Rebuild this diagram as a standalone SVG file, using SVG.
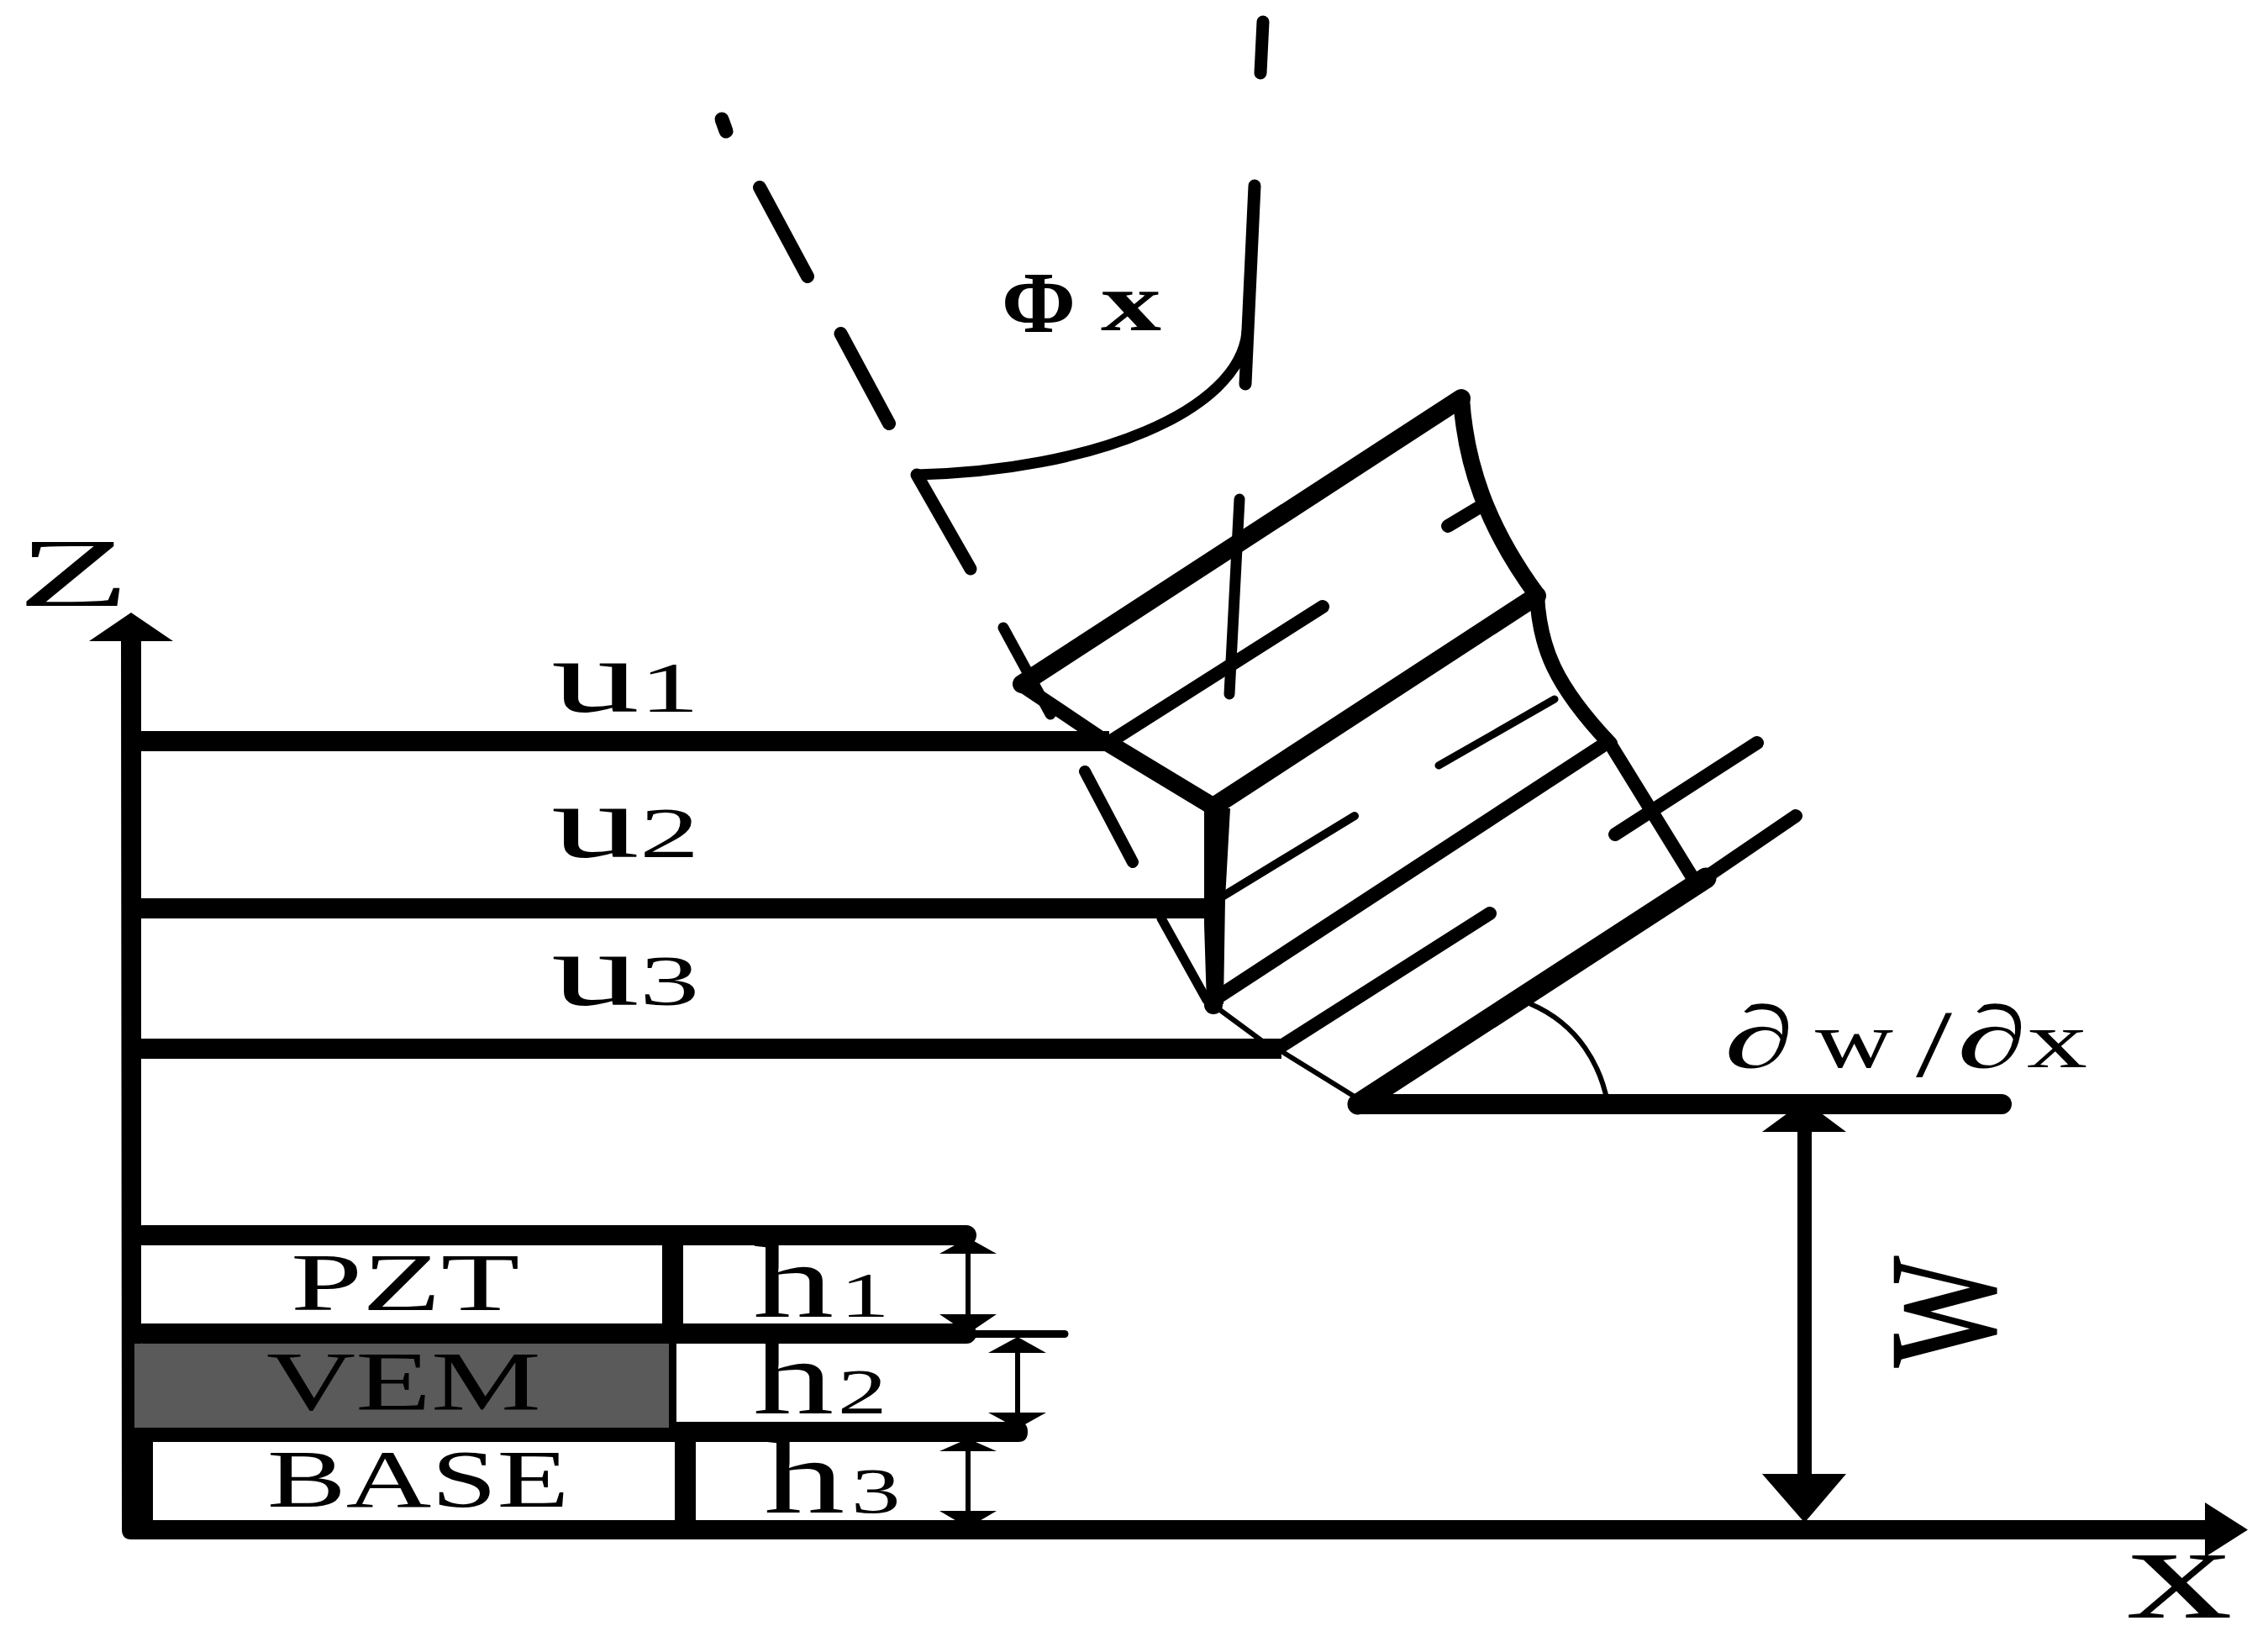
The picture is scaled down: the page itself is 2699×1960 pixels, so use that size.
<svg xmlns="http://www.w3.org/2000/svg" width="2699" height="1960" viewBox="0 0 2699 1960">
<style>
text{font-family:"Liberation Serif","Times New Roman",serif;fill:#000}
.l{fill:none;stroke:#000;stroke-linecap:round;stroke-linejoin:round}
.b{fill:none;stroke:#000;stroke-linecap:butt}
.f{fill:#000;stroke:none}
</style>
<rect width="2699" height="1960" fill="#fff"/>
<g id="axes">
<path class="f" d="M144,763H168V1716H182V1809H2624V1788L2675,1820.5L2624,1853V1832H156Q145,1832 145,1820Z"/>
<polygon class="f" points="106,763 156,729 206,763"/>
<text transform="translate(21,721) scale(1.88,1)" font-size="116">Z</text>
<text transform="translate(2531,1925) scale(1.57,1)" font-size="160">x</text>
</g>
<g id="layer-lines">
<path class="b" stroke-width="24" d="M156,882H1320M156,1081H1440M156,1248H1525"/>
</g>
<g id="layers">
<path class="l" stroke-width="24" d="M170,1470H1150M170,1587H1150"/>
<path class="l" stroke-width="9" d="M1150,1587.5H1267"/>
<path class="f" d="M145,1699H792V1692H1212Q1223,1692 1223,1704Q1223,1716 1212,1716H145Z"/>
<rect class="f" x="788" y="1470" width="25" height="117"/>
<rect class="f" x="796" y="1599" width="9" height="95"/>
<rect class="f" x="803" y="1716" width="25" height="95"/>
<rect x="160" y="1599" width="636" height="100" fill="#5a5a5a"/>
<text transform="translate(346,1559) scale(1.58,1)" font-size="97">PZT</text>
<text transform="translate(317,1677) scale(1.47,1)" font-size="100">VEM</text>
<text transform="translate(318,1793) scale(1.435,1)" font-size="98">BASE</text>
<text transform="translate(896,1567) scale(1.55,1)" font-size="124">h<tspan font-size="76" dx="5">1</tspan></text>
<text transform="translate(896,1682) scale(1.55,1)" font-size="124">h<tspan font-size="76" dx="3">2</tspan></text>
<text transform="translate(909,1800) scale(1.55,1)" font-size="124">h<tspan font-size="76" dx="5">3</tspan></text>
</g>
<g id="dimensions">
<path class="b" stroke-width="6" d="M1152,1485V1570M1211,1600V1690M1152,1722V1805"/>
<polygon class="f" points="1118,1492 1152,1473 1186,1492"/>
<polygon class="f" points="1118,1564 1186,1564 1152,1587"/>
<polygon class="f" points="1176,1610 1211,1591 1245,1610"/>
<polygon class="f" points="1176,1681 1245,1681 1211,1700"/>
<polygon class="f" points="1118,1727 1152,1712 1186,1727"/>
<polygon class="f" points="1118,1798 1186,1798 1152,1818"/>
<path class="b" stroke-width="17" d="M2147.5,1330V1760"/>
<polygon class="f" points="2097,1347 2147.5,1310 2197,1347"/>
<polygon class="f" points="2097,1754 2197,1754 2147.5,1812"/>
<text transform="translate(2374,1628) rotate(-90) scale(.71,1)" font-size="262">w</text>
</g>
<g id="deformed-section">
<path class="l" stroke-width="22" d="M1216,814L1739,474"/>
<path class="l" stroke-width="22" d="M1444,960L1829,709"/>
<path class="l" stroke-width="17" d="M1444,1190L1906,888"/>
<path class="l" stroke-width="25" d="M1616,1314L2030,1045"/>
<path class="l" stroke-width="20" d="M1739,474C1744,550 1768,625 1829,708"/>
<path class="l" stroke-width="18" d="M1829,708C1832,770 1850,815 1916,885"/>
<path class="l" stroke-width="16" d="M1916,885L2014,1044"/>
<path class="l" stroke-width="17" d="M1214,814L1320,885"/>
<path class="l" stroke-width="21" d="M1320,885L1444,960"/>
<polygon class="f" points="1433,962 1464,962 1458,1070 1456,1195 1436,1195 1433,1100"/>
<circle class="f" cx="1444" cy="1196" r="11"/>
<path class="l" stroke-width="6" d="M1452,1202L1517,1250M1528,1253L1612,1305"/>
<path class="l" stroke-width="24" d="M1616,1314H2382"/>
<path class="l" stroke-width="11" d="M1382,1093L1436,1190"/>
</g>
<g id="hatch">
<path class="l" stroke-width="13" d="M1475,594L1463,826"/>
<path class="l" stroke-width="16" d="M1322,882L1574,722"/>
<path class="l" stroke-width="9" d="M1850,832L1712,911"/>
<path class="l" stroke-width="16" d="M1723,626L1758,605"/>
<path class="l" stroke-width="10" d="M1612,971L1448,1071"/>
<path class="l" stroke-width="16" d="M1773,1087L1517,1250"/>
<path class="l" stroke-width="16" d="M2091,884L1922,993"/>
<path class="l" stroke-width="16" d="M2137,971L2030,1044"/>
<path class="l" stroke-width="13" d="M1194,747L1250,850"/>
<path class="l" stroke-width="14" d="M1291,918L1348,1026"/>
</g>
<g id="rotation-angle">
<path class="l" stroke-width="15" d="M1503,26L1500,87M1493,221L1482,457"/>
<path class="l" stroke-width="17" d="M859,142L864,156"/>
<path class="l" stroke-width="16" d="M904,223L961,329M1000.5,397L1058,504"/>
<path class="l" stroke-width="13" d="M1091,565C1300,560 1475,490 1484,395"/>
<path class="l" stroke-width="15" d="M1091,565L1155,677"/>
<path class="l" stroke-width="6" d="M1822,1195C1880,1220 1905,1270 1913,1312"/>
<text y="395" font-weight="bold"><tspan x="1192" font-size="104" textLength="88" lengthAdjust="spacingAndGlyphs">Φ</tspan><tspan x="1310" y="393" font-size="100" textLength="72" lengthAdjust="spacingAndGlyphs">x</tspan></text>
</g>
<g id="labels">
<text transform="translate(656,847) scale(1.68,1)" font-size="125">u<tspan font-size="85">1</tspan></text>
<text transform="translate(656,1020) scale(1.68,1)" font-size="125">u<tspan font-size="85">2</tspan></text>
<text transform="translate(656,1196) scale(1.68,1)" font-size="125">u<tspan font-size="85">3</tspan></text>
<text y="1270"><tspan x="2052" font-size="105" textLength="83" lengthAdjust="spacingAndGlyphs">∂</tspan><tspan x="2160" font-size="95" textLength="93" lengthAdjust="spacingAndGlyphs">w</tspan><tspan x="2280" y="1281" font-size="115" textLength="43" lengthAdjust="spacingAndGlyphs">/</tspan><tspan x="2329" y="1270" font-size="105" textLength="83" lengthAdjust="spacingAndGlyphs">∂</tspan><tspan x="2412" font-size="95" textLength="72" lengthAdjust="spacingAndGlyphs">x</tspan></text>
</g>
</svg>
